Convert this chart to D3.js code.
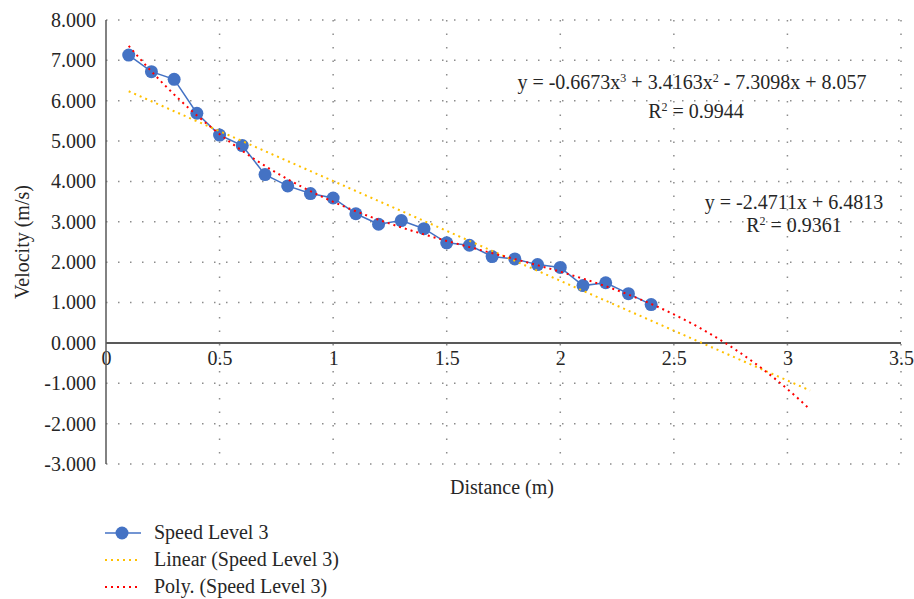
<!DOCTYPE html>
<html>
<head>
<meta charset="utf-8">
<script src="https://cdn.jsdelivr.net/npm/d3@7"></script>
<style>
  body { margin: 0; background: #fff; }
  svg text { font-family: "Liberation Serif", "DejaVu Serif", serif; fill: #262626; }
</style>
</head>
<body>
<svg id="chart" width="914" height="599"></svg>
<script>
// data
var distance = [0.1, 0.2, 0.3, 0.4, 0.5, 0.6, 0.7, 0.8, 0.9, 1.0, 1.1, 1.2,
                1.3, 1.4, 1.5, 1.6, 1.7, 1.8, 1.9, 2.0, 2.1, 2.2, 2.3, 2.4];
var velocity = [7.13, 6.72, 6.53, 5.69, 5.15, 4.89, 4.17, 3.89, 3.70, 3.59, 3.20, 2.94,
                3.03, 2.83, 2.48, 2.42, 2.14, 2.08, 1.94, 1.87, 1.42, 1.49, 1.22, 0.95];
var xTicks = [0, 0.5, 1, 1.5, 2, 2.5, 3, 3.5];
var xTickLabels = ['0', '0.5', '1', '1.5', '2', '2.5', '3', '3.5'];
var yTicks = [-3, -2, -1, 0, 1, 2, 3, 4, 5, 6, 7, 8];
// trendline coefficients as printed on the chart (highest power first)
var linearCoef = [-2.4711, 6.4813];
var polyCoef = [-0.6673, 3.4163, -7.3098, 8.057];
var trendRange = [0.1, 3.1];
var legendLabels = ['Speed Level 3', 'Linear (Speed Level 3)', 'Poly. (Speed Level 3)'];

var svg = d3.select('#chart');
var x = d3.scaleLinear().domain([0, 3.5]).range([106, 901]);
var y = d3.scaleLinear().domain([-3, 8]).range([464, 20]);
var fs = '20px';

function evalPoly(coef, v) {
    return coef.reduce(function (acc, c) { return acc * v + c; }, 0);
}

// grid
svg.append('g').selectAll('line')
    .data(yTicks)
    .enter().append('line')
    .attr('x1', x(0)).attr('x2', x(3.5))
    .attr('y1', function (d) { return y(d); })
    .attr('y2', function (d) { return y(d); })
    .attr('stroke', '#8c8c8c').attr('stroke-width', 1.5)
    .attr('stroke-dasharray', '1.5,10.5');

svg.append('g').selectAll('line')
    .data(xTicks.slice(1))
    .enter().append('line')
    .attr('x1', function (d) { return x(d); })
    .attr('x2', function (d) { return x(d); })
    .attr('y1', y(8)).attr('y2', y(-3))
    .attr('stroke', '#8c8c8c').attr('stroke-width', 1.5)
    .attr('stroke-dasharray', '1.5,12');

// y axis labels
var yFmt = d3.format('.3f');
var yAxis = svg.append('g')
    .attr('transform', 'translate(' + x(0) + ',0)')
    .call(d3.axisLeft(y).tickValues(yTicks).tickSize(0).tickPadding(10)
        .tickFormat(function (d) { return yFmt(d).replace('\u2212', '-'); }));
yAxis.select('.domain').remove();
yAxis.selectAll('text').style('font-size', fs).attr('fill', '#262626');

// x axis labels
var xAxis = svg.append('g')
    .attr('transform', 'translate(0,' + y(0) + ')')
    .call(d3.axisBottom(x).tickValues(xTicks).tickSize(0).tickPadding(8)
        .tickFormat(function (d, i) { return xTickLabels[i]; }));
xAxis.select('.domain').remove();
xAxis.selectAll('text').style('font-size', fs).attr('fill', '#262626');

// axis lines
svg.append('line')
    .attr('x1', x(0)).attr('x2', x(0)).attr('y1', y(8)).attr('y2', y(-3))
    .attr('stroke', '#595959').attr('stroke-width', 1.5);
svg.append('line')
    .attr('x1', x(0)).attr('x2', x(3.5)).attr('y1', y(0)).attr('y2', y(0))
    .attr('stroke', '#595959').attr('stroke-width', 2);

// series line
var pts = distance.map(function (d, i) { return [d, velocity[i]]; });
var line = d3.line()
    .x(function (d) { return x(d[0]); })
    .y(function (d) { return y(d[1]); });

svg.append('path')
    .datum(pts)
    .attr('d', line)
    .attr('fill', 'none')
    .attr('stroke', '#4472c4')
    .attr('stroke-width', 1.5);

svg.append('g').selectAll('circle')
    .data(pts)
    .enter().append('circle')
    .attr('cx', function (d) { return x(d[0]); })
    .attr('cy', function (d) { return y(d[1]); })
    .attr('r', 6.5)
    .attr('fill', '#4472c4');

// trendlines
var trendXs = d3.range(trendRange[0], trendRange[1] + 0.0001, 0.05);
svg.append('path')
    .datum(trendXs.map(function (v) { return [v, evalPoly(linearCoef, v)]; }))
    .attr('d', line)
    .attr('fill', 'none')
    .attr('stroke', '#ffc000')
    .attr('stroke-width', 2)
    .attr('stroke-dasharray', '2,4');

svg.append('path')
    .datum(trendXs.map(function (v) { return [v, evalPoly(polyCoef, v)]; }))
    .attr('d', line)
    .attr('fill', 'none')
    .attr('stroke', '#ff0000')
    .attr('stroke-width', 2)
    .attr('stroke-dasharray', '2,4');

// equations
var eq1 = svg.append('text').attr('x', 692).attr('y', 89)
    .attr('text-anchor', 'middle').style('font-size', fs);
eq1.append('tspan').text('y = -0.6673x');
eq1.append('tspan').attr('dy', -7).style('font-size', '12px').text('3');
eq1.append('tspan').attr('dy', 7).text(' + 3.4163x');
eq1.append('tspan').attr('dy', -7).style('font-size', '12px').text('2');
eq1.append('tspan').attr('dy', 7).text(' - 7.3098x + 8.057');

var r1 = svg.append('text').attr('x', 696).attr('y', 118)
    .attr('text-anchor', 'middle').style('font-size', fs);
r1.append('tspan').text('R');
r1.append('tspan').attr('dy', -7).style('font-size', '12px').text('2');
r1.append('tspan').attr('dy', 7).text(' = 0.9944');

svg.append('text').attr('x', 794).attr('y', 209)
    .attr('text-anchor', 'middle').style('font-size', fs)
    .text('y = -2.4711x + 6.4813');

var r2 = svg.append('text').attr('x', 794).attr('y', 232)
    .attr('text-anchor', 'middle').style('font-size', fs);
r2.append('tspan').text('R');
r2.append('tspan').attr('dy', -7).style('font-size', '12px').text('2');
r2.append('tspan').attr('dy', 7).text(' = 0.9361');

// axis titles
svg.append('text')
    .attr('transform', 'translate(29,242) rotate(-90)')
    .attr('text-anchor', 'middle').style('font-size', fs)
    .text('Velocity (m/s)');
svg.append('text')
    .attr('x', 502).attr('y', 494)
    .attr('text-anchor', 'middle').style('font-size', fs)
    .text('Distance (m)');

// legend
var legendY = [533, 560, 587];
var lg = svg.append('g');
lg.append('line')
    .attr('x1', 105).attr('x2', 141).attr('y1', legendY[0]).attr('y2', legendY[0])
    .attr('stroke', '#4472c4').attr('stroke-width', 1.5);
lg.append('circle').attr('cx', 122).attr('cy', legendY[0]).attr('r', 6.5).attr('fill', '#4472c4');
lg.append('line')
    .attr('x1', 105).attr('x2', 141).attr('y1', legendY[1]).attr('y2', legendY[1])
    .attr('stroke', '#ffc000').attr('stroke-width', 2).attr('stroke-dasharray', '2,4');
lg.append('line')
    .attr('x1', 105).attr('x2', 141).attr('y1', legendY[2]).attr('y2', legendY[2])
    .attr('stroke', '#ff0000').attr('stroke-width', 2).attr('stroke-dasharray', '2,4');
lg.selectAll('text')
    .data(legendLabels)
    .enter().append('text')
    .attr('x', 154)
    .attr('y', function (d, i) { return legendY[i] + 6; })
    .style('font-size', fs)
    .text(function (d) { return d; });
</script>
</body>
</html>
